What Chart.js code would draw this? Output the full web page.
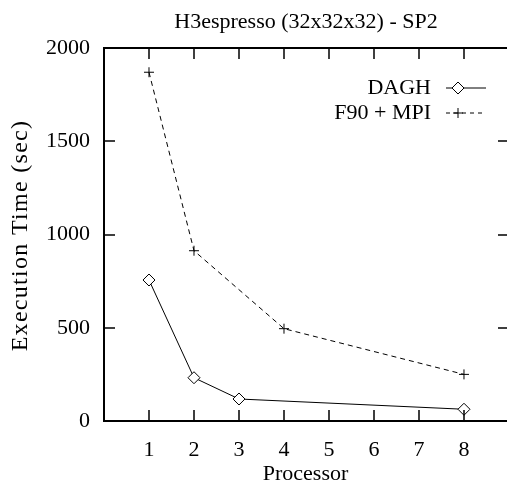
<!DOCTYPE html>
<html>
<head>
<meta charset="utf-8">
<script src="https://cdn.jsdelivr.net/npm/chart.js@4/dist/chart.umd.min.js"></script>
<style>
html,body{margin:0;padding:0;background:#fff;}
#wrap{width:507px;height:487px;}
</style>
</head>
<body>
<div id="wrap"><canvas id="c" width="507" height="487"></canvas></div>
<script>
const chartTitle = "H3espresso (32x32x32) - SP2";
const xTitle = "Processor";
const yTitle = "Execution Time (sec)";
const xTicks = [1, 2, 3, 4, 5, 6, 7, 8];
const yTicks = [0, 500, 1000, 1500, 2000];
const daghX = [1, 2, 3, 8];
const daghY = [756, 232, 118, 63];
const mpiX = [1, 2, 4, 8];
const mpiY = [1870, 913, 495, 250];
const seriesNames = ["DAGH", "F90 + MPI"];

const FONT = "'Liberation Serif', 'Times New Roman', serif";
const TICKLEN = 11;

const framePlugin = {
  id: 'frame',
  afterDraw(chart) {
    const ctx = chart.ctx;
    const a = chart.chartArea;
    const xs = chart.scales.x, ys = chart.scales.y;
    const xEnd = xs.getPixelForValue(9);
    ctx.save();
    ctx.strokeStyle = '#000';
    // inward ticks
    ctx.lineWidth = 1.5;
    ctx.beginPath();
    xs.ticks.forEach(t => {
      const px = Math.round(xs.getPixelForValue(t.value));
      ctx.moveTo(px, a.bottom); ctx.lineTo(px, a.bottom - TICKLEN);
      ctx.moveTo(px, a.top); ctx.lineTo(px, a.top + TICKLEN);
    });
    ys.ticks.forEach(t => {
      const py = Math.round(ys.getPixelForValue(t.value));
      ctx.moveTo(a.left, py); ctx.lineTo(a.left + TICKLEN, py);
      ctx.moveTo(xEnd, py); ctx.lineTo(xEnd - TICKLEN, py);
    });
    ctx.stroke();
    // frame (right side lies beyond the canvas)
    ctx.lineWidth = 2;
    ctx.strokeRect(a.left, a.top, xEnd - a.left, a.bottom - a.top);
    // title
    ctx.fillStyle = '#000';
    ctx.font = '22px ' + FONT;
    ctx.textAlign = 'center';
    ctx.textBaseline = 'middle';
    ctx.fillText(chartTitle, 306, 22);
    // y axis title
    ctx.save();
    ctx.translate(21, (a.top + a.bottom) / 2 + 1);
    ctx.rotate(-Math.PI / 2);
    ctx.font = '24px ' + FONT;
    if ('letterSpacing' in ctx) ctx.letterSpacing = '1.3px';
    ctx.fillText(yTitle, 0, 0);
    ctx.restore();
    // key
    const rows = [
      {label: chart.data.datasets[0].label, y: 88, dash: [], style: 'diamond'},
      {label: chart.data.datasets[1].label, y: 113, dash: [4, 4], style: 'plus'}
    ];
    rows.forEach(r => {
      ctx.textAlign = 'right';
      ctx.fillText(r.label, 431, r.y);
      ctx.lineWidth = 1;
      ctx.setLineDash(r.dash);
      ctx.beginPath();
      ctx.moveTo(446, r.y); ctx.lineTo(486, r.y);
      ctx.stroke();
      ctx.setLineDash([]);
      const cx = 458;
      if (r.style === 'diamond') {
        ctx.fillStyle = '#fff';
        ctx.beginPath();
        ctx.moveTo(cx, r.y - 6); ctx.lineTo(cx + 6, r.y); ctx.lineTo(cx, r.y + 6); ctx.lineTo(cx - 6, r.y); ctx.closePath();
        ctx.fill(); ctx.stroke();
        ctx.fillStyle = '#000';
      } else {
        ctx.beginPath();
        ctx.moveTo(cx - 5, r.y); ctx.lineTo(cx + 5, r.y);
        ctx.moveTo(cx, r.y - 5); ctx.lineTo(cx, r.y + 5);
        ctx.stroke();
      }
    });
    ctx.restore();
  }
};

new Chart(document.getElementById('c'), {
  type: 'line',
  data: {
    datasets: [
      {
        label: seriesNames[0],
        data: daghX.map((x, i) => ({x: x, y: daghY[i]})),
        borderColor: '#000', borderWidth: 1,
        pointStyle: 'rectRot', pointRadius: 6, pointBackgroundColor: '#fff',
        pointBorderColor: '#000', pointBorderWidth: 1, tension: 0, fill: false
      },
      {
        label: seriesNames[1],
        data: mpiX.map((x, i) => ({x: x, y: mpiY[i]})),
        borderColor: '#000', borderWidth: 1, borderDash: [5, 4],
        pointStyle: 'cross', pointRadius: 5, pointBorderColor: '#000',
        pointBorderWidth: 1, tension: 0, fill: false
      }
    ]
  },
  options: {
    responsive: false,
    animation: false,
    events: [],
    layout: {autoPadding: false, padding: {top: 48, right: 0, left: 0, bottom: 0}},
    plugins: {legend: {display: false}, title: {display: false}, tooltip: {enabled: false}},
    scales: {
      x: {
        type: 'linear', min: 0, max: 8.956,
        afterBuildTicks: s => { s.ticks = xTicks.map(v => ({value: v})); },
        afterFit: s => { s.height = 66; s.paddingLeft = 0; s.paddingRight = 0; },
        grid: {display: false, drawTicks: false},
        border: {display: false},
        ticks: {color: '#000', font: {family: FONT, size: 22}, padding: 16, maxRotation: 0, autoSkip: false,
                callback: v => String(v)},
        title: {display: true, text: xTitle, color: '#000', font: {family: FONT, size: 22, lineHeight: 1}, padding: {top: 0, bottom: 2}}
      },
      y: {
        min: 0, max: 2000,
        afterBuildTicks: s => { s.ticks = yTicks.map(v => ({value: v})); },
        afterFit: s => { s.width = 104; },
        grid: {display: false, drawTicks: false},
        border: {display: false},
        ticks: {color: '#000', font: {family: FONT, size: 22}, padding: 14, callback: v => String(v)},
        title: {display: false, text: yTitle}
      }
    }
  },
  plugins: [framePlugin]
});
</script>
</body>
</html>
